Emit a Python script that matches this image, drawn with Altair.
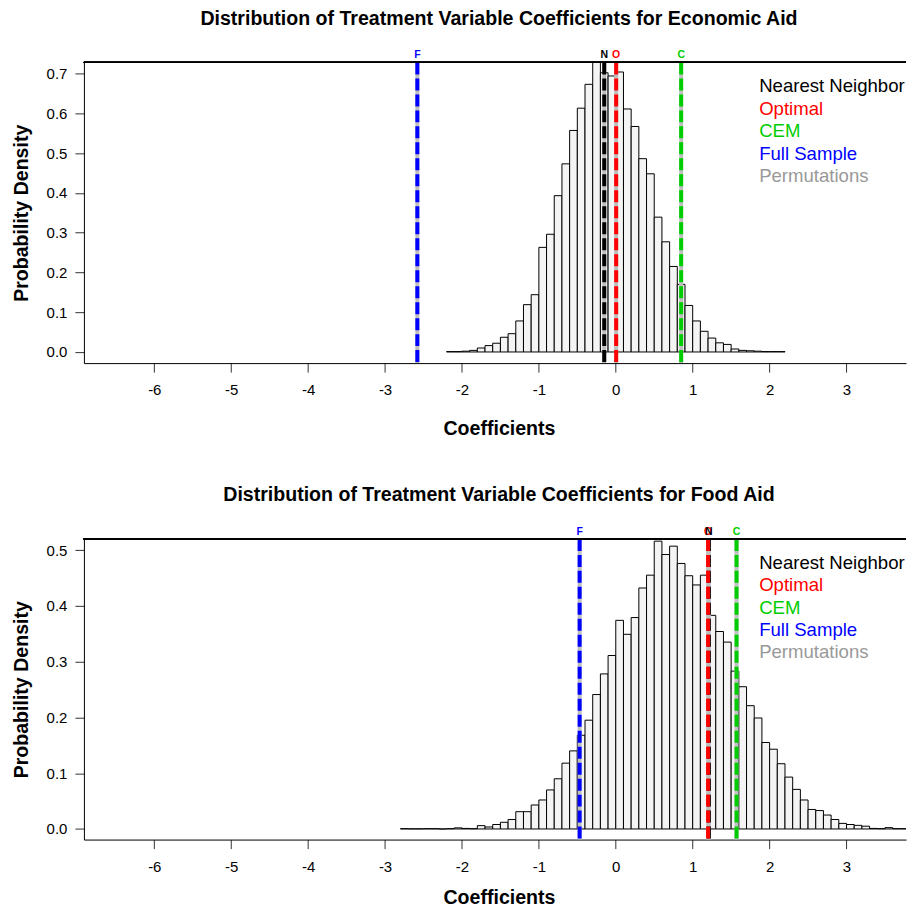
import altair as alt
import pandas as pd

FONT = "Liberation Sans"

# ---------------- data ----------------
econ_bin_start = [round(-2.2 + 0.1 * i, 1) for i in range(44)]
econ_density = [
    0.001, 0.001, 0.002, 0.004, 0.010, 0.016, 0.022, 0.037, 0.046, 0.078,
    0.119, 0.144, 0.263, 0.296, 0.393, 0.473, 0.557, 0.613, 0.673, 0.735,
    0.702, 0.694, 0.704, 0.611, 0.567, 0.486, 0.448, 0.339, 0.277, 0.215,
    0.170, 0.117, 0.078, 0.052, 0.035, 0.023, 0.019, 0.0075, 0.004, 0.003,
    0.002, 0.001, 0.001, 0.001,
]

food_bin_start = [round(-2.8 + 0.1 * i, 1) for i in range(67)]
food_density = [
    0.0006, 0.0003, 0.0003, 0.0006, 0.0006, 0.0, 0.0006, 0.002, 0.001, 0.0006,
    0.006, 0.0036, 0.008, 0.012, 0.017, 0.031, 0.031, 0.043, 0.052, 0.070,
    0.090, 0.118, 0.140, 0.168, 0.195, 0.241, 0.278, 0.311, 0.374, 0.349,
    0.379, 0.432, 0.455, 0.516, 0.492, 0.507, 0.476, 0.454, 0.4375, 0.455,
    0.383, 0.354, 0.335, 0.283, 0.255, 0.221, 0.199, 0.155, 0.143, 0.117,
    0.093, 0.071, 0.052, 0.035, 0.033, 0.025, 0.017, 0.010, 0.008, 0.0065,
    0.005, 0.001, 0.0006, 0.0024, 0.0006, 0.0006, 0.0006,
]
BIN_WIDTH = 0.1

line_letters = ["N", "O", "C", "F"]
line_colors = ["#000000", "#FF0000", "#00CD00", "#0000FF"]
econ_lines = [-0.15, 0.005, 0.85, -2.58]
food_lines = [1.21, 1.20, 1.57, -0.47]

legend_names = ["Nearest Neighbor", "Optimal", "CEM", "Full Sample", "Permutations"]
legend_colors = ["#000000", "#FF0000", "#00CD00", "#0000FF", "#999999"]

x_ticks = [-6, -5, -4, -3, -2, -1, 0, 1, 2, 3]

W, H = 823, 301
X_DOMAIN = [-6.915, -6.915 + W / 77.0]


def panel(title, bins, dens, lines, ydom, yticks, xtitle_pad):
    hist = pd.DataFrame({
        "x": bins,
        "x2": [round(b + BIN_WIDTH, 2) for b in bins],
        "d": dens,
        "zero": [0.0] * len(bins),
    })
    xenc = alt.X(
        "x:Q",
        scale=alt.Scale(domain=X_DOMAIN, nice=False, zero=False),
        axis=alt.Axis(
            values=x_ticks, labelExpr="'' + datum.value", title="Coefficients",
            grid=False, labelFont=FONT, labelFontSize=15, labelColor="black",
            tickColor="#333333", tickSize=9, labelPadding=10.5,
            domainColor="black", domainWidth=1, labelFlush=False,
            titleFont=FONT, titleFontSize=19.6, titleFontWeight="bold",
            titleColor="black", titlePadding=xtitle_pad, titleX=W / 2 + 4,
        ),
    )
    yenc = alt.Y(
        "d:Q",
        scale=alt.Scale(domain=ydom, nice=False, zero=False),
        axis=alt.Axis(
            values=yticks, format=".1f", title="Probability Density", grid=False,
            labelFont=FONT, labelFontSize=15, labelColor="black",
            tickColor="#333333", tickSize=9, labelPadding=8,
            domainColor="black", domainWidth=1,
            titleFont=FONT, titleFontSize=19.6, titleFontWeight="bold",
            titleColor="black", titlePadding=15,
        ),
    )
    bars = alt.Chart(hist).mark_rect(
        fill="#F4F4F4", stroke="black", strokeWidth=1, clip=True
    ).encode(x=xenc, x2="x2:Q", y=yenc, y2="zero:Q")

    ldf = pd.DataFrame({"letter": line_letters, "v": lines, "c": line_colors})
    gray = alt.Chart(ldf).mark_rule(color="#BEBEBE", strokeWidth=4).encode(
        x="v:Q", y=alt.value(0), y2=alt.value(H)
    )
    dashed = alt.Chart(ldf).mark_rule(strokeWidth=4, strokeDash=[12, 4]).encode(
        x="v:Q", y=alt.value(0), y2=alt.value(H),
        color=alt.Color("c:N", scale=None),
    )
    tdf = ldf.iloc[[1, 0, 2, 3]]
    letters = alt.Chart(tdf).mark_text(
        font=FONT, fontSize=10.5, fontWeight="bold", baseline="middle"
    ).encode(
        x="v:Q", y=alt.value(-7), text="letter:N",
        color=alt.Color("c:N", scale=None),
    )
    top_border = alt.Chart(hist).mark_rule(color="black", strokeWidth=1).encode(
        x=alt.value(0), x2=alt.value(W), y=alt.value(0)
    )
    legend_layers = []
    for i, (name, col) in enumerate(zip(legend_names, legend_colors)):
        legend_layers.append(
            alt.Chart(pd.DataFrame({"t": [name]})).mark_text(
                font=FONT, fontSize=18.6, align="left", baseline="middle", color=col
            ).encode(text="t:N", x=alt.value(676), y=alt.value(24 + 22.4 * i))
        )
    return alt.layer(bars, gray, dashed, letters, top_border, *legend_layers).properties(
        width=W, height=H,
        title=alt.TitleParams(
            title, font=FONT, fontSize=19.6, fontWeight="bold", color="black",
            anchor="middle", frame="group", offset=21, dx=4,
        ),
    )


top = panel(
    "Distribution of Treatment Variable Coefficients for Economic Aid",
    econ_bin_start, econ_density, econ_lines, [-0.028, 0.728],
    [0, 0.1, 0.2, 0.3, 0.4, 0.5, 0.6, 0.7], 22,
)
bottom = panel(
    "Distribution of Treatment Variable Coefficients for Food Aid",
    food_bin_start, food_density, food_lines, [-0.019, 0.52],
    [0, 0.1, 0.2, 0.3, 0.4, 0.5], 14,
)

chart = alt.vconcat(top, bottom, spacing=46).properties(
    padding={"left": 3, "top": 0, "right": 0, "bottom": 0},
    background="white",
).configure_view(stroke=None)

chart.save("out.html", embed_options={"renderer": "svg", "actions": False})
